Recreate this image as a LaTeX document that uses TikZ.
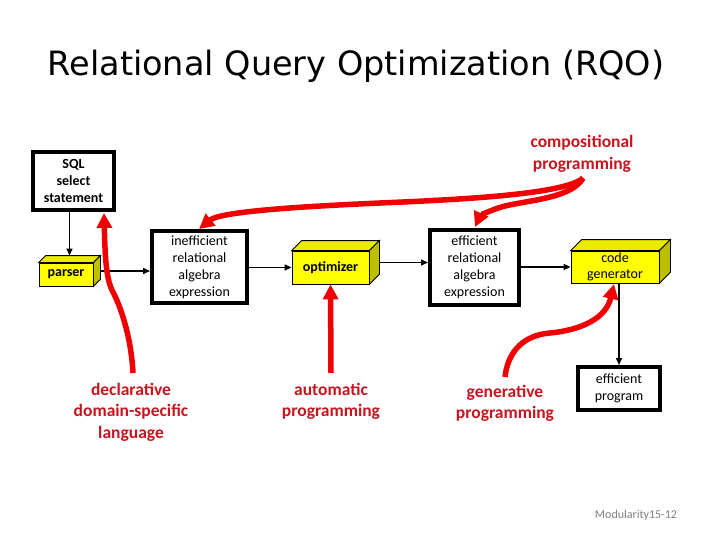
\documentclass[tikz,border=0pt]{standalone}
\usepackage{fontspec}
\setmainfont{Carlito}
\newfontfamily\titlefont{DejaVu Sans}
\usetikzlibrary{arrows.meta,calc}
\definecolor{boxyellow}{RGB}{255,255,0}
\definecolor{boxtop}{RGB}{235,235,0}
\definecolor{boxside}{RGB}{190,190,0}
\definecolor{labelred}{RGB}{200,20,30}
\definecolor{arrowred}{RGB}{240,0,0}
\tikzset{
  plainbox/.style={draw=black,line width=4pt,fill=white,inner sep=0pt,align=center,
    font=\fontsize{14}{17}\selectfont},
  cube/.style={draw=black,line width=0.8pt,fill=boxyellow,inner sep=0pt,align=center,
    font=\bfseries\fontsize{14}{16}\selectfont},
  blackarrow/.style={line width=1.5pt,-{Triangle[length=7pt,width=6pt]}},
  redarrow/.style={draw=arrowred,line width=5.5pt,-{Triangle[length=15pt,width=15pt]}},
  redlabel/.style={text=labelred,align=center,font=\bfseries\fontsize{17.5}{21.5}\selectfont}
}
\newcommand{\cubefaces}[2]{%
  \filldraw[fill=boxtop,draw=black,line width=0.8pt] (#1.north west) -- ++(#2,-#2) -- ($(#1.north east)+(#2,-#2)$) -- (#1.north east) -- cycle;
  \filldraw[fill=boxside,draw=black,line width=0.8pt] (#1.north east) -- ($(#1.north east)+(#2,-#2)$) -- ($(#1.south east)+(#2,-#2)$) -- (#1.south east) -- cycle;
}
\begin{document}
\begin{tikzpicture}[x=1pt,y=-1pt]
\useasboundingbox[fill=white] (0,0) rectangle (720,540);

\node[font=\titlefont\fontsize{33.5}{38}\selectfont] (title) at (356,66) {Relational Query Optimization (RQO)};

% plain boxes
\node[plainbox,font=\bfseries\fontsize{14}{17}\selectfont,minimum width=81pt,minimum height=58pt] (sql) at (73.5,181) {SQL\\select\\statement};
\node[plainbox,minimum width=95pt,minimum height=72pt] (ineff) at (199.5,267) {inefficient\\relational\\algebra\\expression};
\node[plainbox,minimum width=89pt,minimum height=75pt] (eff) at (474.5,267.5) {efficient\\relational\\algebra\\expression};
\node[plainbox,minimum width=82pt,minimum height=43pt] (prog) at (619,388.5) {efficient\\program};

% cubes
\node[cube,minimum width=54pt,minimum height=23pt] (parser) at (66,274.5) {parser};
\cubefaces{parser}{7}
\node[cube,minimum width=77pt,minimum height=33pt] (opt) at (330.5,267.5) {optimizer};
\cubefaces{opt}{10}
\node[cube,font=\fontsize{14}{16}\selectfont,minimum width=88pt,minimum height=32pt] (cg) at (615,267) {code\\generator};
\cubefaces{cg}{11}

% black connectors
\coordinate (parsertop) at ($(parser.north)+(3.5,-7)$);
\coordinate (parserside) at ($(parser.east)+(7,-3.5)$);
\coordinate (optside) at ($(opt.east)+(10,-5)$);
\draw[blackarrow] (sql.south -| parsertop) -- (parsertop);
\draw[blackarrow] (parserside) -- (parserside -| ineff.west);
\draw[blackarrow] (ineff.east |- opt.west) -- (opt.west);
\draw[blackarrow] (optside) -- (optside -| eff.west);
\draw[blackarrow] (eff.east |- cg.west) -- (cg.west);
\draw[blackarrow] (cg.south -| prog.north) -- (prog.north);

% red labels
\node[redlabel] (comp) at (582,154) {compositional\\programming};
\node[redlabel] (decl) at (131,412) {declarative\\domain-specific\\language};
\node[redlabel] (auto) at (331,401.5) {automatic\\programming};
\node[redlabel] (gen) at (505,403.5) {generative\\programming};

% red connectors
\coordinate (declstart) at (133,373);
\coordinate (sqltip) at (104,213);
\draw[redarrow] (declstart) .. controls (131,335) and (120,305) .. (112,290) .. controls (106,278) and (105,255) .. (sqltip);
\coordinate (autostart) at (331,373);
\draw[redarrow] (autostart) -- (opt.south);
\coordinate (genstart) at (505,377);
\coordinate (cgtip) at (614,284);
\draw[redarrow] (genstart) .. controls (508,350) and (525,335) .. (550,333) .. controls (582,330) and (606,318) .. (cgtip);
\coordinate (compstart) at (583,178);
\coordinate (inefftip) at (199,229);
\coordinate (efftip) at (475,227);
\draw[redarrow] (compstart) .. controls (565,195) and (450,200) .. (380,203) .. controls (290,207) and (220,212) .. (inefftip);
\draw[redarrow] (compstart) .. controls (572,198) and (530,200) .. (505,206) .. controls (490,210) and (480,216) .. (efftip);

\node[text=gray,font=\fontsize{12}{14}\selectfont] (footer) at (636,515) {Modularity15-12};
\end{tikzpicture}
\end{document}
